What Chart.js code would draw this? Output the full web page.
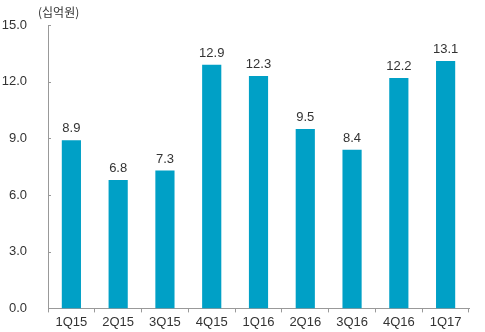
<!DOCTYPE html>
<html>
<head>
<meta charset="utf-8">
<script src="https://cdn.jsdelivr.net/npm/chart.js@4"></script>
<style>
  body { margin: 0; background: #fff; }
  #wrap { width: 485px; height: 332px; position: relative; }
</style>
</head>
<body>
<div id="wrap"><canvas id="chart"></canvas></div>
<script>
  const quarters = ["1Q15", "2Q15", "3Q15", "4Q15", "1Q16", "2Q16", "3Q16", "4Q16", "1Q17"];
  const revenue = [8.9, 6.8, 7.3, 12.9, 12.3, 9.5, 8.4, 12.2, 13.1];
  const unitLabel = "(십억원)";

  const font = "'Liberation Sans', Arial, sans-serif";

  // value labels on top of bars, unit label and inward y ticks
  const extras = {
    id: "extras",
    afterDatasetsDraw(chart) {
      const ctx = chart.ctx;
      const meta = chart.getDatasetMeta(0);
      ctx.save();
      ctx.fillStyle = "#333";
      ctx.font = "13px " + font;
      ctx.textAlign = "center";
      ctx.textBaseline = "bottom";
      meta.data.forEach((bar, i) => {
        ctx.fillText(revenue[i].toFixed(1), bar.x, bar.y - 5);
      });
      ctx.textAlign = "left";
      ctx.textBaseline = "middle";
      ctx.font = "12px 'Noto Sans CJK KR', sans-serif";
      ctx.fillText(unitLabel, 38, 12);
      const y = chart.scales.y;
      ctx.strokeStyle = "#999";
      ctx.lineWidth = 1;
      y.ticks.forEach((t) => {
        const py = Math.round(y.getPixelForValue(t.value)) + 0.5;
        ctx.beginPath();
        ctx.moveTo(y.right, py);
        ctx.lineTo(y.right + 3, py);
        ctx.stroke();
      });
      ctx.restore();
    },
  };

  new Chart(document.getElementById("chart"), {
    type: "bar",
    data: {
      labels: quarters,
      datasets: [
        {
          data: revenue,
          backgroundColor: "#00a0c6",
          borderWidth: 0,
          barPercentage: 0.41,
          categoryPercentage: 1.0,
        },
      ],
    },
    options: {
      responsive: true,
      maintainAspectRatio: false,
      animation: false,
      layout: { padding: { top: 25, right: 16, left: 0, bottom: 0 } },
      plugins: { legend: { display: false }, tooltip: { enabled: false } },
      scales: {
        x: {
          border: { color: "#999", width: 1 },
          grid: { display: true, drawOnChartArea: false, tickLength: 4, color: "#999", offset: true },
          ticks: { color: "#333", font: { size: 13, family: font }, padding: 2, maxRotation: 0 },
        },
        y: {
          min: 0,
          max: 15,
          afterFit: (s) => { s.width = 48; },
          border: { color: "#999", width: 1 },
          grid: { display: false },
          ticks: {
            stepSize: 3,
            color: "#333",
            padding: 13,
            font: { size: 13, family: font },
            callback: (v) => v.toFixed(1),
          },
        },
      },
    },
    plugins: [extras],
  });
</script>
</body>
</html>
